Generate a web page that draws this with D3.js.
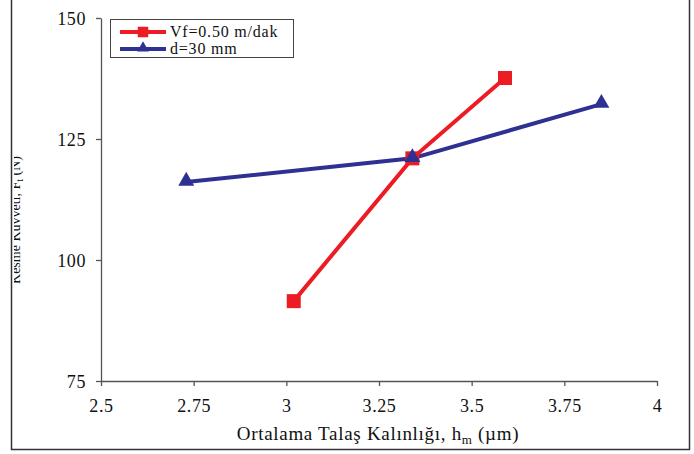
<!DOCTYPE html>
<html><head><meta charset="utf-8">
<script src="https://cdn.jsdelivr.net/npm/d3@7"></script>
<style>body{margin:0;background:#fff}svg{display:block}text{font-family:"Liberation Serif","Times New Roman",serif}</style>
</head><body>
<svg id="c" width="694" height="454"></svg>
<script>
const seriesNames = ["Vf=0.50 m/dak", "d=30 mm"];
const redX = [3.02, 3.34, 3.59];
const redY = [91.5, 121.0, 137.6];
const blueX = [2.73, 3.34, 3.85];
const blueY = [116.1, 121.0, 132.2];
const xTicks = [2.5, 2.75, 3, 3.25, 3.5, 3.75, 4];
const yTicks = [75, 100, 125, 150];

const svg = d3.select("#c");
const x = d3.scaleLinear().domain([2.5, 4]).range([101, 657]);
const y = d3.scaleLinear().domain([75, 150]).range([381, 18]);

// outer frame
svg.append("path").attr("d", "M11.5,0 V449.5 H689.5 V0").attr("fill", "none").attr("stroke", "#333").attr("stroke-width", 1.5);

// axes
const xa = svg.append("g").attr("transform", "translate(0,381)")
  .call(d3.axisBottom(x).tickValues(xTicks).tickSize(5).tickSizeOuter(0).tickFormat(d => String(d)));
const ya = svg.append("g").attr("transform", "translate(101,0)")
  .call(d3.axisLeft(y).tickValues(yTicks).tickSize(5).tickSizeOuter(0).tickFormat(d => String(d)));
[xa, ya].forEach(a => {
  a.select(".domain").attr("stroke", "#555").attr("stroke-width", 1.3);
  a.selectAll(".tick line").attr("stroke", "#555").attr("stroke-width", 1.3);
  a.selectAll("text").attr("font-size", 18).attr("letter-spacing", 0.6).attr("fill", "#111").style("font-family", "Liberation Serif");
});
xa.selectAll("text").attr("dy", "1.3em");
ya.selectAll("text").attr("x", -15).attr("dy", "0.35em");

// x title
const xt = svg.append("text").attr("x", 378).attr("y", 440).attr("text-anchor", "middle").attr("font-size", 19).attr("letter-spacing", 0.7).attr("fill", "#111");
xt.append("tspan").text("Ortalama Talaş Kalınlığı, h");
xt.append("tspan").attr("font-size", 13).attr("dy", 4).text("m");
xt.append("tspan").attr("dy", -4).text(" (µm)");

// y title (clipped by frame)
svg.append("clipPath").attr("id", "yc").append("rect").attr("x", 14).attr("y", 0).attr("width", 60).attr("height", 454);
const yt = svg.append("g").attr("clip-path", "url(#yc)").append("text")
  .attr("transform", "translate(20,220) rotate(-90)").attr("text-anchor", "middle").attr("font-size", 14).attr("fill", "#111");
yt.append("tspan").text("Kesme Kuvveti, F");
yt.append("tspan").attr("font-size", 10).attr("dy", 3).text("t");
yt.append("tspan").attr("dy", -3).text(" (N)");

const line = d3.line().x(d => x(d[0])).y(d => y(d[1]));
const red = "#ed1c24", blue = "#2e3192";
const redPts = redX.map((v, i) => [v, redY[i]]);
const bluePts = blueX.map((v, i) => [v, blueY[i]]);

svg.append("path").datum(redPts).attr("d", line).attr("fill", "none").attr("stroke", red).attr("stroke-width", 4);
svg.append("path").datum(bluePts).attr("d", line).attr("fill", "none").attr("stroke", blue).attr("stroke-width", 4);

const sq = d3.symbol().type(d3.symbolSquare).size(196);
const tri = d3.symbol().type(d3.symbolTriangle).size(110);
svg.selectAll(".rs").data(redPts).enter().append("path")
  .attr("d", sq).attr("fill", red).attr("transform", d => `translate(${x(d[0])},${y(d[1])})`);
svg.selectAll(".bt").data(bluePts).enter().append("path")
  .attr("d", tri).attr("fill", blue).attr("transform", d => `translate(${x(d[0])},${y(d[1]) - 1})`);

// legend
const lg = svg.append("g");
lg.append("rect").attr("x", 110.5).attr("y", 19.5).attr("width", 183).attr("height", 38).attr("fill", "#fff").attr("stroke", "#444").attr("stroke-width", 1);
const rows = [{c: red, ss: 110, y: 32}, {c: blue, ss: 60, y: 49}];
rows.forEach((r, i) => {
  lg.append("line").attr("x1", 120).attr("x2", 166).attr("y1", r.y).attr("y2", r.y).attr("stroke", r.c).attr("stroke-width", 4);
  lg.append("path").attr("d", (i === 0 ? d3.symbol().type(d3.symbolSquare).size(r.ss) : d3.symbol().type(d3.symbolTriangle).size(r.ss))())
    .attr("fill", r.c).attr("transform", `translate(143,${r.y - (i ? 1 : 0)})`);
  lg.append("text").attr("x", 170).attr("y", r.y + 5).attr("font-size", 16).attr("letter-spacing", 0.8).attr("fill", "#111").text(seriesNames[i]);
});
</script>
</body></html>
